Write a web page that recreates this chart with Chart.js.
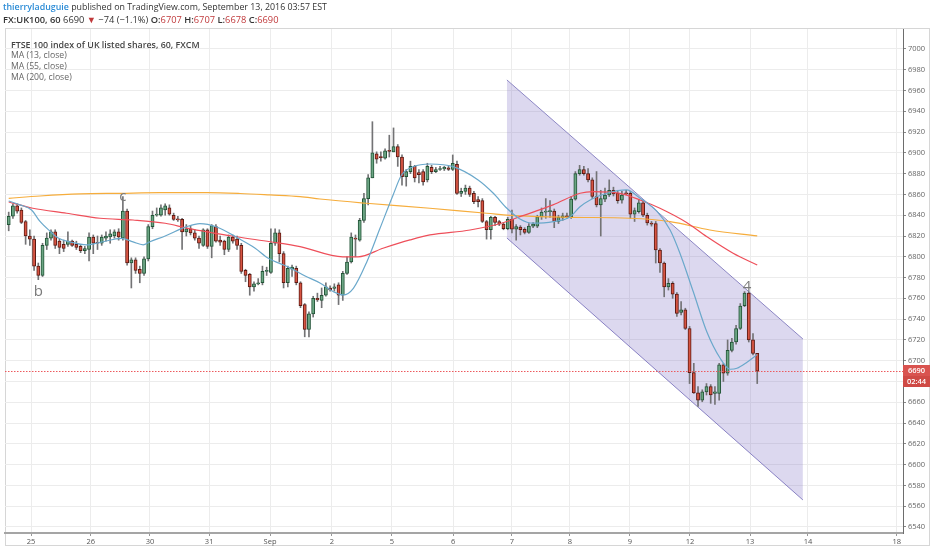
<!DOCTYPE html>
<html>
<head>
<meta charset="utf-8">
<script src="https://cdn.jsdelivr.net/npm/chart.js@4.4.0/dist/chart.umd.min.js"></script>
<style>
  body { margin: 0; background: #fff; font-family: "Open Sans", sans-serif; }
  #wrap { position: relative; width: 932px; height: 550px; overflow: hidden; }
  #frame { position: absolute; left: 5px; top: 28px; width: 925px; height: 518px; border: 1px solid #d6d6d6; box-sizing: border-box; }
  #chart { position: absolute; left: 0; top: 0; }
  .line { position: absolute; left: 3px; white-space: nowrap; color: #333; }
  #h1 { top: 1px; font-size: 8.85px; }
  #h2 { top: 13px; font-size: 9.3px; font-weight: 600; }
  #h1 .user { color: #2a8bd6; font-weight: 600; }
  #h2 .v { color: #c0393b; font-weight: 400; }
  #h2 .n { font-weight: 400; }
  .leg { position: absolute; left: 11px; white-space: nowrap; font-size: 8.7px; color: #666; }
  .leg.t { color: #444; font-weight: 600; font-size: 8.9px; }
</style>
</head>
<body>
<div id="wrap">
  <div id="frame"></div>
  <canvas id="chart" width="932" height="550"></canvas>
  <div class="line" id="h1"><span class="user">thierryladuguie</span> published on TradingView.com, September 13, 2016 03:57 EST</div>
  <div class="line" id="h2">FX:UK100, 60 <span class="n">6690 <span style="color:#c0393b">▼</span> −74 (−1.1%)</span> O:<span class="v">6707</span> H:<span class="v">6707</span> L:<span class="v">6678</span> C:<span class="v">6690</span></div>
  <div class="leg t" style="top:38px">FTSE 100 index of UK listed shares, 60, FXCM</div>
  <div class="leg" style="top:49px">MA (13, close)</div>
  <div class="leg" style="top:60px">MA (55, close)</div>
  <div class="leg" style="top:71px">MA (200, close)</div>
</div>
<script>
// hourly candles (index = candle number)
const open = [6831,6839,6849,6845,6834,6820,6817,6791,6782,6811,
  6818,6824,6815,6812,6812,6815,6812,6810,6806,6807,
  6819,6814,6813,6818,6819,6820,6824,6818,6844,6794,
  6797,6788,6784,6798,6829,6840,6840,6845,6847,6840,
  6836.5,6836,6824,6827,6823,6818,6811,6826,6810,6829,
  6816,6815,6807,6819,6817,6811,6787,6783,6771,6774,
  6775,6786,6785,6813,6823,6803,6775,6788,6789,6775,
  6754,6730,6745,6760,6758,6763,6770,6769.5,6773,6763,
  6784,6795,6818,6816,6835,6856,6876,6899,6896.5,6895,
  6902.5,6901,6906,6896,6877,6882,6887,6881,6882,6874,
  6886,6882,6884,6884.5,6885.5,6884,6889,6861,6863,6866,
  6861,6855,6854,6834,6826,6838,6834,6831.5,6827,6836,
  6826.5,6828.5,6826.5,6823.5,6829.5,6829.5,6838.5,6843,6843.5,6844,
  6834,6837.5,6839.5,6838.5,6855.5,6880,6884,6880,6874,6858,
  6850,6855.5,6859.5,6864,6861,6854.5,6861.5,6861,6841,6843.5,
  6852,6840,6832.5,6832,6806.5,6794,6771,6774.5,6764,6746.5,
  6749,6731,6688.5,6669,6662,6670,6675,6668.5,6668.5,6696,
  6688,6710,6718,6731,6753,6765,6720,6707];
const high = [6843,6851,6851,6847,6835,6826,6820,6794,6813,6823,
  6826,6826,6817,6816,6824,6816,6815,6811,6810,6823,
  6821,6820,6821,6824,6826,6826,6827,6858,6846,6799,
  6799,6791,6800,6831,6844,6847,6850,6851,6850,6842,
  6839,6837,6831,6830,6826,6820,6827,6827,6831,6831,
  6820,6816,6821,6821,6820,6813,6788,6784,6776,6779,
  6791,6790,6827,6827,6826,6805,6791,6792,6791,6776,
  6755,6747,6762,6765,6770,6775,6772,6774,6775,6786,
  6800,6823,6821,6837,6861,6879,6930,6901,6901,6904,
  6917,6924,6908,6898,6884,6892,6888,6884,6884,6890,
  6888,6886,6887,6887,6887,6898,6892,6866,6869,6868,
  6863,6858,6856,6835,6839,6839,6835,6833,6838,6845,
  6831,6830,6828,6832,6833,6840,6847,6856,6854,6846,
  6840,6842,6842,6858,6882,6888,6887,6885,6876,6882,
  6864,6866,6874,6867,6864,6863,6864,6863,6847,6855,
  6854,6842,6834,6834,6808,6795,6779,6776,6765.5,6757,
  6750.5,6733,6697.5,6675,6672,6678,6677,6675,6697.5,6697.5,
  6720,6721.5,6734,6755,6766.5,6766.5,6726,6707];
const low = [6825,6837,6842,6832,6812,6811,6787,6778,6781,6807,
  6816,6808,6803,6805,6810,6810,6807,6804,6803,6796,
  6803,6807,6811,6815,6813,6818,6816,6816,6792,6770,
  6784,6775,6782,6796,6827,6839,6839,6840,6840,6835,
  6834,6807,6820,6821,6816,6808,6810,6808,6799,6814,
  6811,6802,6805,6813,6807,6784,6776,6763,6767,6773,
  6773,6782,6784,6811,6795,6770,6771,6781,6773,6751,
  6723,6723,6742,6757,6751,6762,6767,6767,6754,6758,
  6783,6794,6800,6815,6833,6850,6876,6890,6892,6894,
  6896,6901,6887,6869,6868,6880,6872,6871,6869,6872,
  6880,6881,6883,6883,6883,6883,6860,6858,6860,6858,
  6851,6848,6833,6817,6817,6830,6830,6826,6826,6823,
  6816,6821,6822,6822.5,6828,6828,6836,6837,6838,6828,
  6832,6835,6837,6837,6854.5,6878.5,6878.5,6872,6856,6848,
  6820,6853,6858,6858.5,6851.5,6851.5,6859.5,6837,6834,6842,
  6838.5,6830.5,6829.5,6794,6785,6761.5,6768,6760,6742.5,6744,
  6730,6678,6668.5,6656,6660.5,6667,6659,6658,6662,6680,
  6686,6708.5,6716,6730,6752,6718,6705.5,6678];
const close = [6839,6849,6844,6833,6820,6817,6791,6782,6811,6818,
  6824,6811,6809,6808,6815,6811,6809,6806,6808,6819,
  6813,6813,6819,6820,6822,6824,6819,6844,6794,6797,
  6787,6784,6798,6829,6840,6841,6847,6849,6841,6836,
  6835.5,6824,6827,6823,6818,6813,6826,6810,6830,6815,
  6814,6807,6819,6815,6811,6786,6782,6771,6774,6775,
  6786,6786.8,6813,6823,6803,6775,6789,6790,6775,6753,
  6730,6745,6760,6758.5,6763,6771,6768,6771,6763,6784,
  6795,6819,6817,6835,6856,6876,6900,6894,6895.5,6902,
  6901.5,6906,6896,6877,6882,6887,6876,6879,6872,6887,
  6882,6884,6885,6886,6884,6890,6861,6863,6866,6860,
  6853,6853,6834,6826,6838,6833,6831.5,6827,6836,6826.5,
  6829,6826,6823.5,6829.5,6831.5,6838.5,6843,6844,6844.5,6834,
  6838,6839.5,6838.5,6855.5,6880,6884,6880,6874,6858,6850,
  6856,6859.5,6864,6860.5,6854,6859.5,6860.5,6841,6844.5,6852,
  6840,6832.5,6831.5,6806.5,6794,6771,6774.5,6764,6745.5,6749,
  6731,6688.5,6669,6662,6670,6675,6667,6670,6696,6688,
  6710,6718,6731,6752.5,6765,6720,6707,6690];

// moving averages as drawn, [candle index, value]
const ma13 = [[0,6853.7],[2.7,6849.9],[5.4,6845],[7.4,6834],[9.8,6824.5],[11.7,6818],[14.5,6814.3],[18.4,6811.4],
  [21.6,6813.8],[26.7,6817.8],[29.4,6814.3],[31.8,6811.5],[33.4,6814.5],[37,6820],[42.1,6829],[45.2,6832],
  [49.2,6828.7],[54.3,6817.8],[58.2,6808.5],[61.4,6798.6],[66.1,6790.2],[70.1,6781.5],[73.6,6774.8],[76.8,6766.4],
  [79.1,6763.3],[81.5,6769.7],[84.7,6795.3],[87.8,6827.4],[90.9,6859.5],[92.9,6878.7],[95.7,6886.7],[99.6,6889.3],
  [105.1,6886.7],[111,6873.9],[114.6,6861.1],[117.8,6846.7],[120.9,6836.4],[124,6832.3],[128.8,6833.8],[132.7,6838.3],
  [135.1,6848.2],[137.5,6854.7],[141.4,6861.1],[146.1,6864.3],[149.3,6856.3],[153.2,6844.1],[156.4,6825.8],[158.7,6803.7],
  [161.9,6766.1],[165.1,6727.6],[168.2,6702.6],[170.6,6691.8],[172.2,6692.7],[174.5,6698.3],[177,6706]];
const ma55 = [[0,6852.7],[5.7,6846.7],[13.7,6841.9],[21.6,6837.1],[29.4,6835.4],[37,6832.3],[42.4,6827.4],[53.9,6819.3],
  [61.8,6814.5],[68.9,6809.8],[79,6800],[82.6,6800],[88.5,6808.2],[94.9,6816.2],[99.6,6821],[109.1,6825.8],
  [116.9,6832.8],[120.9,6838.6],[128.7,6849.9],[135.1,6861.1],[138.2,6862.7],[144.5,6861.1],[149.3,6854.7],[154,6846.7],
  [160.3,6833],[165.1,6819.3],[171.3,6803.4],[177,6792.1]];
const ma200 = [[0,6856.3],[7.4,6858.5],[16.9,6860.5],[26.3,6861.1],[35.8,6861.7],[46.9,6861.7],[54.7,6860.9],[61.8,6859.5],
  [68.9,6857.9],[73.6,6855.6],[84.6,6851.5],[99.6,6846.7],[113,6841.9],[120.9,6839.3],[132.7,6838],[146.9,6837.1],
  [156.4,6833.8],[165.8,6825.8],[177,6820.1]];

// descending channel drawing
const channelTop = [[117.8,6970.2],[187.8,6720.9]];
const channelBottom = [[117.8,6818.1],[187.8,6566]];

// wave labels
const waveLabels = [['b',7,6766],['c',27,6858],['4',174.6,6771]];

const xTickIdx = [5.3,19.4,33.4,47.4,61.8,76.4,90.6,105.1,119,132.7,146.9,161.1,175.3,189,210];
const xTickLabels = ['25','26','30','31','Sep','2','5','6','7','8','9','12','13','14','18'];
const yTicks = [6540,6560,6580,6600,6620,6640,6660,6680,6700,6720,6740,6760,6780,6800,6820,6840,6860,6880,6900,6920,6940,6960,6980,7000];
const countdown = '02:44';

const pts = arr => arr.map(p => ({x: p[0], y: p[1]}));
const up = close.map((c, i) => c >= open[i]);

Chart.defaults.font.family = "'Open Sans', sans-serif";

const overlay = {
  id: 'overlay',
  afterDatasetsDraw(chart) {
    const {ctx, chartArea: a, scales: {x, y}} = chart;
    const py = Math.round(y.getPixelForValue(close[close.length - 1])) + 0.5;
    ctx.save();
    ctx.strokeStyle = '#ec5a5e';
    ctx.lineWidth = 1;
    ctx.setLineDash([1.5, 1.5]);
    ctx.beginPath();
    ctx.moveTo(a.left, py);
    ctx.lineTo(a.right, py);
    ctx.stroke();
    ctx.setLineDash([]);
    ctx.fillStyle = '#7a7a7a';
    ctx.font = "15px 'Open Sans'";
    ctx.textAlign = 'center';
    ctx.textBaseline = 'middle';
    waveLabels.forEach(w => ctx.fillText(w[0], x.getPixelForValue(w[1]), y.getPixelForValue(w[2])));
    ctx.restore();
  },
  afterDraw(chart) {
    const {ctx, chartArea: a, scales: {y}} = chart;
    const last = close[close.length - 1];
    const py = Math.round(y.getPixelForValue(last));
    ctx.save();
    ctx.fillStyle = '#d9534f';
    ctx.fillRect(a.right, py - 6, 27, 11);
    ctx.fillStyle = '#cf4a45';
    ctx.fillRect(a.right, py + 5, 27, 11);
    ctx.fillStyle = '#fff';
    ctx.font = "600 7.5px 'Open Sans'";
    ctx.textAlign = 'center';
    ctx.textBaseline = 'middle';
    ctx.fillText(String(last), a.right + 13.5, py);
    ctx.fillText(countdown, a.right + 13.5, py + 11);
    ctx.restore();
  }
};

new Chart(document.getElementById('chart'), {
  type: 'bar',
  data: {
    datasets: [
      { type: 'line', label: 'MA13', data: pts(ma13), borderColor: '#6aa8cb', borderWidth: 1.2,
        pointRadius: 0, cubicInterpolationMode: 'monotone', order: 0 },
      { type: 'line', label: 'MA55', data: pts(ma55), borderColor: '#ee4f5a', borderWidth: 1.2,
        pointRadius: 0, cubicInterpolationMode: 'monotone', order: 0 },
      { type: 'line', label: 'MA200', data: pts(ma200), borderColor: '#f6ad3c', borderWidth: 1.2,
        pointRadius: 0, cubicInterpolationMode: 'monotone', order: 0 },
      { label: 'body', data: open.map((o, i) => ({x: i, y: [o, close[i]]})),
        backgroundColor: up.map(u => u ? '#6ba583' : '#d75442'),
        borderColor: up.map(u => u ? '#225437' : '#5b1a13'),
        borderWidth: 1, borderSkipped: false, barThickness: 3.2, minBarLength: 1, grouped: false, order: 1 },
      { label: 'wick', data: low.map((l, i) => ({x: i, y: [l, high[i]]})),
        backgroundColor: '#737375', barThickness: 1, grouped: false, order: 2 },
      { type: 'line', label: 'chTop', data: pts(channelTop), borderColor: '#8c86c4', borderWidth: 1,
        pointRadius: 0, fill: '+1', backgroundColor: 'rgba(120,105,195,0.26)', order: 3 },
      { type: 'line', label: 'chBot', data: pts(channelBottom), borderColor: '#8c86c4', borderWidth: 1,
        pointRadius: 0, fill: false, order: 3 }
    ]
  },
  options: {
    responsive: false,
    animation: false,
    devicePixelRatio: 1,
    layout: { padding: { left: 5, top: 29, right: 0, bottom: 0 } },
    plugins: { legend: { display: false }, tooltip: { enabled: false } },
    scales: {
      x: {
        type: 'linear', min: -0.875, max: 211.47, offset: false,
        afterBuildTicks: s => { s.ticks = xTickIdx.map(v => ({value: v})); },
        afterFit: s => { s.height = 17; },
        ticks: {
          autoSkip: false, maxRotation: 0, padding: 1, color: '#555', font: { size: 7.5 },
          callback: v => xTickLabels[xTickIdx.indexOf(v)]
        },
        grid: { offset: false, color: '#ececec', tickLength: 3, tickColor: '#999' },
        border: { color: '#a5a5a5', width: 2 }
      },
      y: {
        type: 'linear', position: 'right', min: 6534.2, max: 7019.2, beginAtZero: false,
        afterBuildTicks: s => { s.ticks = yTicks.map(v => ({value: v})); },
        afterFit: s => { s.width = 29; },
        ticks: { padding: 2, color: '#666', font: { size: 7.5 }, callback: v => String(v) },
        grid: { color: '#ececec', tickLength: 3, tickColor: '#888' },
        border: { color: '#6d6d6d', width: 1 }
      }
    }
  },
  plugins: [overlay]
});
</script>
</body>
</html>
